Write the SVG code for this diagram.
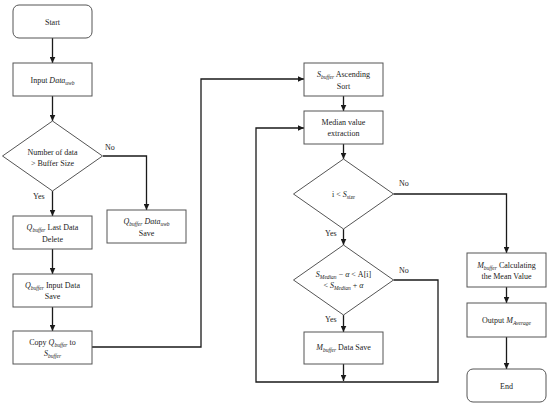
<svg xmlns="http://www.w3.org/2000/svg" width="550" height="407" viewBox="0 0 550 407">
<defs>
<marker id="ah" markerUnits="userSpaceOnUse" markerWidth="6" markerHeight="6" viewBox="0 0 6 6" refX="6" refY="3" orient="auto">
<path d="M0,0.2 L6,3 L0,5.8 Z" fill="#1a1a1a"/>
</marker>
<style>
.box{fill:#fff;stroke:#555;stroke-width:1}
.ln{fill:none;stroke:#1a1a1a;stroke-width:1.3}
.ar{fill:none;stroke:#1a1a1a;stroke-width:1.3;marker-end:url(#ah)}
text{font-family:"Liberation Serif","DejaVu Serif",serif;font-size:8px;fill:#222;text-anchor:middle}
.lb{text-anchor:start}
.m{font-style:italic}
.s{font-style:italic;font-size:5.5px}
</style>
</defs>
<rect width="550" height="407" fill="#fff"/>
<g id="connectors">
<path class="ar" d="M52.5,38 V63"/>
<path class="ar" d="M52.5,96 V121"/>
<path class="ar" d="M103,156 H146.5 V210"/>
<path class="ar" d="M52.5,191 V216"/>
<path class="ar" d="M52.5,249 V274"/>
<path class="ar" d="M52.5,307 V331"/>
<path class="ar" d="M92,347 H201 V79 H304"/>
<path class="ar" d="M343.5,96 V111"/>
<path class="ar" d="M343.5,144 V159"/>
<path class="ar" d="M393.5,194 H506.5 V253"/>
<path class="ar" d="M343.5,229 V245"/>
<path class="ar" d="M343.5,315 V332"/>
<path class="ar" d="M393.5,280 H438 V382 H256 V128 H304"/>
<path class="ar" d="M343.5,364 V381"/>
<path class="ar" d="M506.5,287 V303"/>
<path class="ar" d="M506.5,337 V369"/>
<text class="lb" x="105" y="150">No</text>
<text class="lb" x="33" y="199">Yes</text>
<text class="lb" x="399" y="186">No</text>
<text class="lb" x="325" y="236">Yes</text>
<text class="lb" x="399" y="273">No</text>
<text class="lb" x="325" y="322">Yes</text>
</g>
<g id="start">
<rect class="box" x="13" y="5" width="79" height="33" rx="6"/>
<text x="52.5" y="25">Start</text>
</g>
<g id="input">
<rect class="box" x="13" y="63" width="79" height="33"/>
<text x="52.5" y="83">Input <tspan class="m">Data</tspan><tspan class="s" dy="1.5">uwb</tspan></text>
</g>
<g id="dec1">
<polygon class="box" points="52.5,121 102.5,156 52.5,191 2.5,156"/>
<text x="52.5" y="155">Number of data</text>
<text x="52.5" y="166">&gt; Buffer Size</text>
</g>
<g id="qsave">
<rect class="box" x="107" y="210" width="79" height="33"/>
<text x="146.5" y="224"><tspan class="m">Q</tspan><tspan class="s" dy="1.5">buffer</tspan><tspan dy="-1.5"> </tspan><tspan class="m">Data</tspan><tspan class="s" dy="1.5">uwb</tspan></text>
<text x="146.5" y="236">Save</text>
</g>
<g id="qdelete">
<rect class="box" x="13" y="216" width="79" height="33"/>
<text x="52.5" y="230"><tspan class="m">Q</tspan><tspan class="s" dy="1.5">buffer</tspan><tspan dy="-1.5"> Last Data</tspan></text>
<text x="52.5" y="242">Delete</text>
</g>
<g id="qinput">
<rect class="box" x="13" y="274" width="79" height="33"/>
<text x="52.5" y="288"><tspan class="m">Q</tspan><tspan class="s" dy="1.5">buffer</tspan><tspan dy="-1.5"> Input Data</tspan></text>
<text x="52.5" y="299">Save</text>
</g>
<g id="copy">
<rect class="box" x="13" y="331" width="79" height="33"/>
<text x="52.5" y="345">Copy <tspan class="m">Q</tspan><tspan class="s" dy="1.5">buffer</tspan><tspan dy="-1.5"> to</tspan></text>
<text x="52.5" y="356"><tspan class="m">S</tspan><tspan class="s" dy="1.5">buffer</tspan></text>
</g>
<g id="sort">
<rect class="box" x="304" y="63" width="79" height="33"/>
<text x="343.5" y="77"><tspan class="m">S</tspan><tspan class="s" dy="1.5">buffer</tspan><tspan dy="-1.5">  Ascending</tspan></text>
<text x="343.5" y="89">Sort</text>
</g>
<g id="median">
<rect class="box" x="304" y="111" width="79" height="33"/>
<text x="343.5" y="125">Median value</text>
<text x="343.5" y="136">extraction</text>
</g>
<g id="dec2">
<polygon class="box" points="343.5,159 393.5,194 343.5,229 293.5,194"/>
<text x="343.5" y="197">i &lt; <tspan class="m">S</tspan><tspan class="s" dy="1.5">size</tspan></text>
</g>
<g id="dec3">
<polygon class="box" points="343.5,245 393.5,280 343.5,315 293.5,280"/>
<text x="343.5" y="277"><tspan class="m">S</tspan><tspan class="s" dy="1.5">Median</tspan><tspan dy="-1.5"> − </tspan><tspan class="m">α</tspan> &lt;  A[i]</text>
<text x="343.5" y="288">&lt; <tspan class="m">S</tspan><tspan class="s" dy="1.5">Median</tspan><tspan dy="-1.5"> + </tspan><tspan class="m">α</tspan></text>
</g>
<g id="msave">
<rect class="box" x="304" y="332" width="79" height="32"/>
<text x="343.5" y="350"><tspan class="m">M</tspan><tspan class="s" dy="1.5">buffer</tspan><tspan dy="-1.5">  Data Save</tspan></text>
</g>
<g id="calc">
<rect class="box" x="467" y="253" width="79" height="34"/>
<text x="506.5" y="268"><tspan class="m">M</tspan><tspan class="s" dy="1.5">buffer</tspan><tspan dy="-1.5"> Calculating</tspan></text>
<text x="506.5" y="279">the Mean Value</text>
</g>
<g id="output">
<rect class="box" x="467" y="303" width="79" height="34"/>
<text x="506.5" y="323">Output <tspan class="m">M</tspan><tspan class="s" dy="1.5">Average</tspan></text>
</g>
<g id="end">
<rect class="box" x="467" y="369" width="79" height="33" rx="6"/>
<text x="506.5" y="389">End</text>
</g>
</svg>
